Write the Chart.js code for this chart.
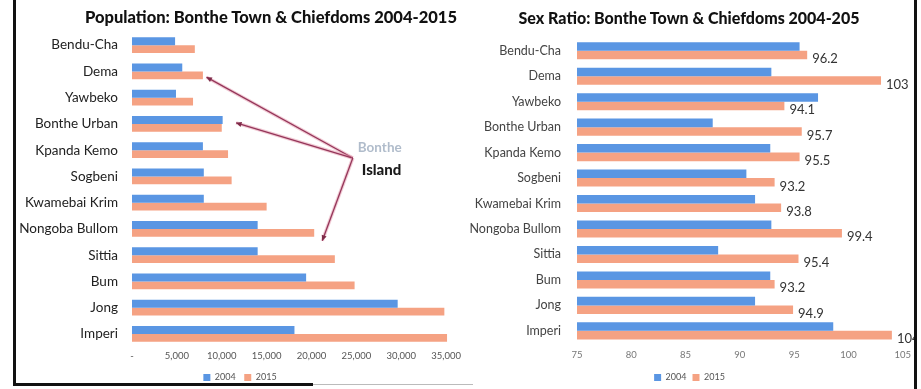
<!DOCTYPE html>
<html lang="en">
<head>
<meta charset="UTF-8">
<title>Bonthe Town &amp; Chiefdoms 2004-2015</title>
<style>
    body { margin: 0; background: #fff; width: 921px; height: 389px; overflow: hidden; position: relative; font-family: Lato, "Open Sans", sans-serif; }
    .chartTitle { position: absolute; top: 8px; line-height: 19px; font-weight: 900; font-size: 16.5px; color: #111; white-space: nowrap; text-align: center; }
    #popTitle { left: 71px; width: 400px; }
    #ratioTitle { left: 489px; width: 400px; font-size: 16px; }
    .box { position: absolute; top: 0; }
    #popBox { left: 16px; width: 448px; height: 392px; }
    #ratioBox { left: 462px; width: 455px; height: 392px; }
    .frame { position: absolute; background: #111; }
</style>
</head>
<body>
    <div class="box" id="popBox"><canvas id="popChart"></canvas></div>
    <div class="box" id="ratioBox"><canvas id="ratioChart"></canvas></div>
    <div class="chartTitle" id="popTitle">Population: Bonthe Town &amp; Chiefdoms 2004-2015</div>
    <div class="chartTitle" id="ratioTitle">Sex Ratio: Bonthe Town &amp; Chiefdoms 2004-205</div>
    <div class="frame" style="left:13px; top:0; width:3px; height:386px;"></div>
    <div class="frame" style="left:13px; top:383px; width:300px; height:3px;"></div>
    <div class="frame" style="left:313px; top:384px; width:160px; height:1px; background:#bbb;"></div>
    <div class="frame" style="left:914px; top:0; width:3px; height:389px;"></div>

<script src="https://cdn.jsdelivr.net/npm/chart.js"></script>
<script>
    const chiefdoms = ['Bendu-Cha', 'Dema', 'Yawbeko', 'Bonthe Urban', 'Kpanda Kemo', 'Sogbeni',
        'Kwamebai Krim', 'Nongoba Bullom', 'Sittia', 'Bum', 'Jong', 'Imperi'];
    const years = ['2004', '2015'];

    // population counts
    const pop2004 = [4800, 5600, 4900, 10100, 7900, 8000, 8000, 14000, 14000, 19400, 29600, 18100];
    const pop2015 = [7000, 7900, 6800, 10000, 10700, 11100, 15000, 20300, 22600, 24800, 34800, 35100];
    const popTicks = [0, 5000, 10000, 15000, 20000, 25000, 30000, 35000];

    // males per 100 females
    const ratio2004 = [95.5, 92.9, 97.2, 87.5, 92.8, 90.6, 91.4, 92.9, 88.0, 92.8, 91.4, 98.6];
    const ratio2015 = [96.2, 103, 94.1, 95.7, 95.5, 93.2, 93.8, 99.4, 95.4, 93.2, 94.9, 104];
    const ratioTicks = [75, 80, 85, 90, 95, 100, 105];

    const blue = '#5a96e3';
    const orange = '#f5a283';
    const font = 'Lato, "Open Sans", sans-serif';
    Chart.defaults.font.family = font;

    // arrows pointing at the island chiefdoms
    const islandNote = {
        id: 'islandNote',
        afterDatasetsDraw(chart) {
            const x = chart.scales.x, y = chart.scales.y;
            const ax = x.getPixelForValue(24600), ay = y.getPixelForValue(4.3);
            const ends = [[8300, 1.22], [11600, 2.96], [21200, 7.45]];
            const ctx = chart.ctx;
            ctx.save();
            ends.forEach(([v, i]) => {
                const ex = x.getPixelForValue(v), ey = y.getPixelForValue(i);
                ctx.strokeStyle = 'rgba(228,150,170,0.5)';
                ctx.lineWidth = 3.5;
                ctx.beginPath(); ctx.moveTo(ax, ay); ctx.lineTo(ex, ey); ctx.stroke();
                ctx.strokeStyle = '#95365a';
                ctx.lineWidth = 1.3;
                ctx.beginPath(); ctx.moveTo(ax, ay); ctx.lineTo(ex, ey); ctx.stroke();
                const a = Math.atan2(ey - ay, ex - ax);
                ctx.fillStyle = '#7d2a48';
                ctx.beginPath();
                ctx.moveTo(ex, ey);
                ctx.lineTo(ex - 6 * Math.cos(a - 0.45), ey - 6 * Math.sin(a - 0.45));
                ctx.lineTo(ex - 6 * Math.cos(a + 0.45), ey - 6 * Math.sin(a + 0.45));
                ctx.closePath();
                ctx.fill();
            });
            ctx.textBaseline = 'middle';
            ctx.font = 'bold 13.5px ' + font;
            ctx.fillStyle = '#b0bccb';
            ctx.fillText('Bonthe', ax + 5, ay - 10);
            ctx.font = '900 15px ' + font;
            ctx.fillStyle = '#1a1a1a';
            ctx.fillText('Island', ax + 9, ay + 12);
            ctx.restore();
        }
    };

    // value labels on the 2015 bars
    const ratioLabels = {
        id: 'ratioLabels',
        afterDatasetsDraw(chart) {
            const ctx = chart.ctx;
            ctx.save();
            ctx.font = '13px ' + font;
            ctx.fillStyle = '#333';
            ctx.textBaseline = 'middle';
            chart.getDatasetMeta(1).data.forEach((bar, i) => {
                const v = ratio2015[i];
                ctx.fillText(Number.isInteger(v) ? String(v) : v.toFixed(1), bar.x + 5, bar.y + 4);
            });
            ctx.restore();
        }
    };

    function legendOpts(pad) {
        return {
            position: 'bottom',
            labels: { boxWidth: 7, boxHeight: 7, font: { size: 9 }, color: '#555', padding: pad }
        };
    }

    new Chart(document.getElementById('popChart'), {
        type: 'bar',
        data: {
            labels: chiefdoms,
            datasets: [
                { label: years[0], data: pop2004, backgroundColor: blue },
                { label: years[1], data: pop2015, backgroundColor: orange }
            ]
        },
        options: {
            indexAxis: 'y',
            responsive: true,
            maintainAspectRatio: false,
            animation: false,
            layout: { padding: { top: 32, right: 0, bottom: 0, left: 0 } },
            datasets: { bar: { categoryPercentage: 0.6, barPercentage: 1 } },
            scales: {
                x: {
                    min: 0, max: 36000,
                    grid: { display: false, drawTicks: false },
                    border: { display: false },
                    afterBuildTicks: s => { s.ticks = popTicks.map(v => ({ value: v })); },
                    ticks: {
                        callback: v => v === 0 ? '-' : v.toLocaleString('en-US'),
                        font: { size: 9.5 }, color: '#555', padding: 3, maxRotation: 0, autoSkip: false
                    }
                },
                y: {
                    grid: { display: false, drawTicks: false },
                    border: { display: false },
                    afterFit: s => { s.width = 116; },
                    ticks: { font: { size: 13.5 }, color: '#222', padding: 14, autoSkip: false }
                }
            },
            plugins: { legend: legendOpts(8.5), tooltip: { enabled: false } }
        },
        plugins: [islandNote]
    });

    new Chart(document.getElementById('ratioChart'), {
        type: 'bar',
        data: {
            labels: chiefdoms,
            datasets: [
                { label: years[0], data: ratio2004, backgroundColor: blue },
                { label: years[1], data: ratio2015, backgroundColor: orange }
            ]
        },
        options: {
            indexAxis: 'y',
            responsive: true,
            maintainAspectRatio: false,
            animation: false,
            layout: { padding: { top: 38, right: 0, bottom: 0, left: 0 } },
            datasets: { bar: { categoryPercentage: 0.67, barPercentage: 1 } },
            scales: {
                x: {
                    min: 75, max: 105,
                    grid: { display: false, drawTicks: false },
                    border: { display: false },
                    afterBuildTicks: s => { s.ticks = ratioTicks.map(v => ({ value: v })); },
                    ticks: { font: { size: 9.5 }, color: '#777', padding: 6, maxRotation: 0, autoSkip: false }
                },
                y: {
                    grid: { display: false, drawTicks: false },
                    border: { display: false },
                    afterFit: s => { s.width = 115; },
                    ticks: { font: { size: 12.5 }, color: '#444', padding: 16, autoSkip: false }
                }
            },
            plugins: { legend: legendOpts(6), tooltip: { enabled: false } }
        },
        plugins: [ratioLabels]
    });
</script>
</body>
</html>
